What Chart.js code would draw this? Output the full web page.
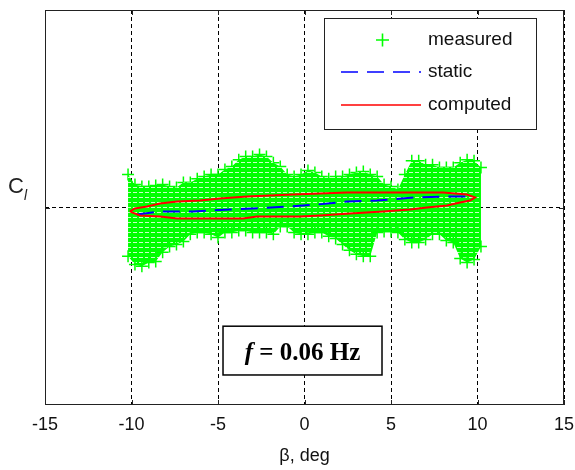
<!DOCTYPE html>
<html>
<head>
<meta charset="utf-8">
<script src="https://cdn.jsdelivr.net/npm/chart.js@4.4.1/dist/chart.umd.min.js"></script>
<style>
  html, body { margin: 0; padding: 0; background: #fff; }
  #wrap { width: 575px; height: 470px; }
</style>
</head>
<body>
<div id="wrap"><canvas id="chart" width="575" height="470"></canvas></div>
<script>
'use strict';

// ---------------------------------------------------------------------------
// Data (C_l in normalised units, no y ticks)
// ---------------------------------------------------------------------------
const X_TICKS = [-15, -10, -5, 0, 5, 10, 15];

// measured: envelope of the "+" cloud, column by column
const measBeta = [
  -10.2, -9.8, -9.4, -9.0, -8.6, -8.2, -7.8, -7.4, -7.0, -6.6, -6.2, -5.8, -5.4,
  -5.0, -4.6, -4.2, -3.8, -3.4, -3.0, -2.6, -2.2, -1.8, -1.4, -1.0, -0.6, -0.2,
  0.2, 0.6, 1.0, 1.4, 1.8, 2.2, 2.6, 3.0, 3.4, 3.8, 4.2, 4.6, 5.0, 5.4, 5.8,
  6.2, 6.6, 7.0, 7.4, 7.8, 8.2, 8.6, 9.0, 9.4, 9.8, 10.2
];
const measUpper = [
  0.167, 0.116, 0.106, 0.106, 0.111, 0.116, 0.106, 0.101, 0.126, 0.126, 0.146, 0.157, 0.167,
  0.167, 0.192, 0.207, 0.242, 0.258, 0.258, 0.268, 0.258, 0.227, 0.207, 0.167, 0.157, 0.167,
  0.187, 0.177, 0.157, 0.146, 0.157, 0.157, 0.167, 0.177, 0.182, 0.167, 0.157, 0.116, 0.106, 0.091, 0.167,
  0.237, 0.237, 0.217, 0.217, 0.202, 0.202, 0.202, 0.227, 0.242, 0.237, 0.202
];
const measLower = [
  -0.247, -0.288, -0.298, -0.278, -0.273, -0.227, -0.197, -0.187, -0.172, -0.136, -0.126, -0.126, -0.136,
  -0.152, -0.126, -0.126, -0.116, -0.116, -0.126, -0.126, -0.126, -0.136, -0.096, -0.096, -0.126, -0.136,
  -0.136, -0.126, -0.126, -0.146, -0.157, -0.187, -0.217, -0.237, -0.247, -0.247, -0.126, -0.121, -0.121, -0.126, -0.162,
  -0.177, -0.177, -0.162, -0.136, -0.136, -0.167, -0.177, -0.258, -0.278, -0.263, -0.197
];

// static: quasi-steady C_l(beta)
const staticBeta = [-9.68, -8.35, -6.45, -4.31, -2.98, -1.01, 0.72, 2.46, 4.19, 6.39, 8.24, 9.57];
const staticCl   = [-0.035, -0.020, -0.020, -0.010, -0.005, 0.005, 0.015, 0.030, 0.035, 0.051, 0.056, 0.056];

// computed: hysteresis loop, upper branch left->right then lower branch back
const compBeta = [
  -10.09, -9.80, -9.10, -8.35, -7.37, -6.04, -4.88, -3.32, -0.66, 0.90, 2.46, 8.01, 9.39, 9.86,
  9.57, 8.99, 8.24, 7.08, 6.10, 4.54, 2.63, 0.90, -0.26, -2.75, -3.55, -7.37, -8.35, -9.51, -9.97, -10.09
];
const compCl = [
  -0.019, -0.005, 0.005, 0.020, 0.030, 0.035, 0.045, 0.056, 0.066, 0.071, 0.076, 0.076, 0.066, 0.051,
  0.035, 0.025, 0.010, 0.000, -0.010, -0.020, -0.030, -0.040, -0.045, -0.045, -0.056, -0.056, -0.045, -0.040, -0.025, -0.019
];

const LEGEND = ['measured', 'static', 'computed'];
const NOTE_BETA = [-4.71, 4.48];    // annotation box, in axis units
const NOTE_CL = [-0.601, -0.848];

const GREEN = '#00ff00';
const FONT = '"Liberation Sans", Arial, sans-serif';

const zip = (xs, ys) => xs.map((x, i) => ({ x, y: ys[i] }));

// fill texture: rows of "+" markers leave thin light gaps
function cloudPattern() {
  const c = document.createElement('canvas');
  c.width = 6; c.height = 5;
  const g = c.getContext('2d');
  g.fillStyle = GREEN;
  g.fillRect(0, 0, 6, 5);
  g.fillStyle = '#c8ffc8';
  g.fillRect(1, 2, 4, 1);
  return g.createPattern(c, 'repeat');
}

// ---------------------------------------------------------------------------
// Frame, inward ticks, y label, legend and note box
// ---------------------------------------------------------------------------
const decor = {
  id: 'decor',
  afterDraw(chart) {
    const { ctx, chartArea: a, scales: { x, y } } = chart;
    ctx.save();

    // axes box + inward tick marks
    ctx.strokeStyle = '#222';
    ctx.lineWidth = 1;
    ctx.setLineDash([]);
    ctx.strokeRect(a.left + 0.5, a.top + 0.5, a.right - a.left - 1, a.bottom - a.top - 1);
    ctx.beginPath();
    X_TICKS.forEach(v => {
      const px = Math.round(x.getPixelForValue(v)) + 0.5;
      ctx.moveTo(px, a.bottom); ctx.lineTo(px, a.bottom - 5);
      ctx.moveTo(px, a.top); ctx.lineTo(px, a.top + 5);
    });
    const py0 = Math.round(y.getPixelForValue(0)) + 0.5;
    ctx.moveTo(a.left, py0); ctx.lineTo(a.left + 5, py0);
    ctx.moveTo(a.right, py0); ctx.lineTo(a.right - 5, py0);
    ctx.stroke();

    // y label C_l
    ctx.fillStyle = '#222';
    ctx.textBaseline = 'alphabetic';
    ctx.font = '22px ' + FONT;
    ctx.fillText('C', 8, 193);
    ctx.font = 'italic 14px ' + FONT;
    ctx.fillText('l', 24, 200);

    // legend
    const lw = 212, lh = 111;
    const lx = Math.round(a.right) - 28 - lw, ly = Math.round(a.top) + 8;
    ctx.fillStyle = '#fff';
    ctx.fillRect(lx, ly, lw, lh);
    ctx.strokeStyle = '#222';
    ctx.strokeRect(lx + 0.5, ly + 0.5, lw, lh);
    const rows = [ly + 22, ly + 54, ly + 87];
    ctx.lineWidth = 1.6;
    // measured "+"
    ctx.strokeStyle = GREEN;
    ctx.beginPath();
    ctx.moveTo(lx + 52, rows[0]); ctx.lineTo(lx + 65, rows[0]);
    ctx.moveTo(lx + 58.5, rows[0] - 6.5); ctx.lineTo(lx + 58.5, rows[0] + 6.5);
    ctx.stroke();
    // static dashed
    ctx.strokeStyle = '#0000ff';
    ctx.setLineDash([17, 9]);
    ctx.beginPath();
    ctx.moveTo(lx + 17, rows[1]); ctx.lineTo(lx + 97, rows[1]);
    ctx.stroke();
    // computed solid
    ctx.setLineDash([]);
    ctx.strokeStyle = '#ff0000';
    ctx.beginPath();
    ctx.moveTo(lx + 17, rows[2]); ctx.lineTo(lx + 97, rows[2]);
    ctx.stroke();
    ctx.fillStyle = '#111';
    ctx.font = '19px ' + FONT;
    ctx.textBaseline = 'middle';
    LEGEND.forEach((t, i) => ctx.fillText(t, lx + 104, rows[i]));

    // note box "f = 0.06 Hz"
    const bx0 = x.getPixelForValue(NOTE_BETA[0]), bx1 = x.getPixelForValue(NOTE_BETA[1]);
    const by0 = y.getPixelForValue(NOTE_CL[0]), by1 = y.getPixelForValue(NOTE_CL[1]);
    ctx.fillStyle = '#fff';
    ctx.fillRect(bx0, by0, bx1 - bx0, by1 - by0);
    ctx.strokeStyle = '#000';
    ctx.lineWidth = 1.5;
    ctx.strokeRect(bx0, by0, bx1 - bx0, by1 - by0);
    const serif = '"Liberation Serif", "Times New Roman", serif';
    ctx.fillStyle = '#000';
    ctx.textBaseline = 'alphabetic';
    ctx.font = 'italic bold 25px ' + serif;
    const fW = ctx.measureText('f').width;
    ctx.font = 'bold 25px ' + serif;
    const rest = ' = 0.06 Hz';
    const rW = ctx.measureText(rest).width;
    const tx = (bx0 + bx1) / 2 - (fW + rW) / 2;
    const base = (by0 + by1) / 2 + 9;
    ctx.font = 'italic bold 25px ' + serif;
    ctx.fillText('f', tx, base);
    ctx.font = 'bold 25px ' + serif;
    ctx.fillText(rest, tx + fW, base);

    ctx.restore();
  }
};

// ---------------------------------------------------------------------------
// Chart
// ---------------------------------------------------------------------------
const crossPts = {
  type: 'line',
  borderColor: 'rgba(0,0,0,0)',
  borderWidth: 0,
  pointStyle: 'cross',
  pointRadius: 6,
  pointBorderWidth: 1.5,
  pointBorderColor: GREEN,
  pointBackgroundColor: GREEN,
  tension: 0,
};

new Chart(document.getElementById('chart'), {
  type: 'line',
  data: {
    datasets: [
      { ...crossPts, label: 'measured', data: zip(measBeta, measUpper), fill: false, order: 4 },
      { ...crossPts, label: 'measured-low', data: zip(measBeta, measLower),
        fill: { target: '-1' }, backgroundColor: cloudPattern(), order: 3 },
      { type: 'line', label: LEGEND[1], data: zip(staticBeta, staticCl),
        borderColor: '#0000ff', borderWidth: 2, borderDash: [17, 9],
        pointRadius: 0, fill: false, tension: 0, order: 1 },
      { type: 'line', label: LEGEND[2], data: zip(compBeta, compCl),
        borderColor: '#ff0000', borderWidth: 2,
        pointRadius: 0, fill: false, tension: 0, order: 0 },
    ],
  },
  options: {
    responsive: false,
    animation: false,
    layout: { padding: { top: 10, right: 11, left: 0, bottom: 0 } },
    plugins: { legend: { display: false }, tooltip: { enabled: false } },
    scales: {
      x: {
        type: 'linear',
        min: -15, max: 15,
        afterBuildTicks: s => { s.ticks = X_TICKS.map(v => ({ value: v })); },
        afterFit: s => { s.height = 65; s.paddingLeft = 0; s.paddingRight = 0; },
        ticks: { color: '#111', font: { family: FONT, size: 18 }, padding: 9 },
        grid: { color: '#000', lineWidth: 1, drawTicks: false },
        border: { display: false, dash: [4, 3] },
        title: { display: true, text: 'β, deg', color: '#111',
                 font: { family: FONT, size: 18 }, padding: { top: 0, bottom: 3 } },
      },
      y: {
        min: -1, max: 1,
        afterBuildTicks: s => { s.ticks = [{ value: 0 }]; },
        afterFit: s => { s.width = 45; s.paddingTop = 0; s.paddingBottom = 0; },
        ticks: { display: false },
        grid: { color: '#000', lineWidth: 1, drawTicks: false },
        border: { display: false, dash: [4, 3] },
      },
    },
  },
  plugins: [decor],
});
</script>
</body>
</html>
